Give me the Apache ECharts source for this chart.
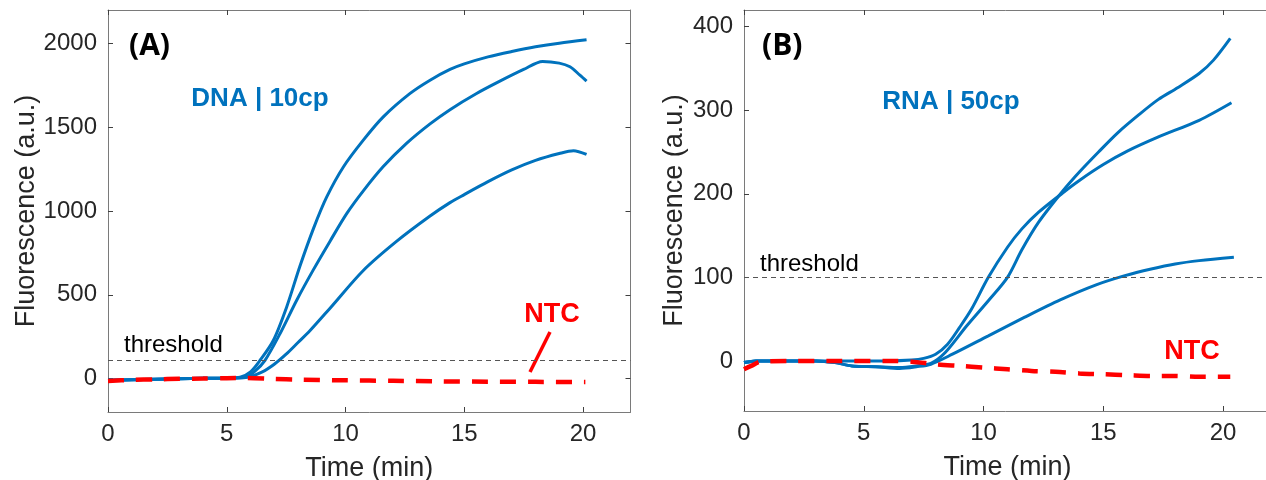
<!DOCTYPE html>
<html>
<head>
<meta charset="utf-8">
<script src="https://cdn.jsdelivr.net/npm/echarts@6/dist/echarts.min.js"></script>
<style>
html, body { margin: 0; padding: 0; background: #fff; }
#chart { width: 1266px; height: 480px; }
</style>
</head>
<body>
<div id="chart"></div>
<script>
// ---- data: DNA panel (A) ----
const dnaTicksX = [0, 5, 10, 15, 20];
const dnaTicksY = [0, 500, 1000, 1500, 2000];
const dnaThreshold = 110;

const dnaT1 = [0, 1, 2, 3, 4, 5, 5.56, 6.0, 6.4, 6.96, 7.52, 8.08, 8.65, 9.21, 9.91, 10.75, 11.59, 12.72, 13.56, 14.4, 15, 16, 17, 18, 19, 20.15];
const dnaF1 = [-10, -7, -4, -1, 1, 3, 8, 40, 108, 227, 426, 670, 895, 1084, 1263, 1423, 1562, 1702, 1781, 1845, 1878, 1920, 1952, 1980, 2002, 2022];

const dnaT2 = [0, 1, 2, 3, 4, 5, 5.8, 6.2, 6.61, 7.24, 7.94, 8.65, 9.35, 10.05, 10.75, 11.59, 12.58, 13.56, 14.4, 15.5, 16.5, 17.5, 18.3, 19.0, 19.45, 19.87, 20.15];
const dnaF2 = [-10, -7, -4, -1, 1, 3, 8, 45, 108, 267, 466, 650, 820, 984, 1120, 1265, 1405, 1520, 1605, 1700, 1775, 1845, 1893, 1883, 1861, 1811, 1775];

const dnaT3 = [0, 1, 2, 3, 4, 5, 5.8, 6.5, 7.0, 7.5, 8.0, 8.5, 9.35, 10.75, 12.16, 13.56, 14.4, 15, 16, 17, 18, 19, 19.6, 20.15];
const dnaF3 = [-10, -7, -4, -1, 1, 3, 6, 40, 85, 145, 215, 285, 420, 645, 820, 970, 1050, 1098, 1175, 1245, 1302, 1343, 1360, 1338];

const dnaNtcT = [0, 1, 2, 3, 4, 5, 5.8, 7, 8, 10, 12, 14, 16, 18, 20.1];
const dnaNtcF = [-15, -8, -5, -2, 0, 2, 3, -3, -7, -11, -14, -17, -19, -20, -21];

// ---- data: RNA panel (B) ----
const rnaTicksX = [0, 5, 10, 15, 20];
const rnaTicksY = [0, 100, 200, 300, 400];
const rnaThreshold = 100;

const rnaT1 = [0, 0.5, 2, 4, 6, 7, 7.5, 8.0, 8.5, 9, 9.5, 10.2, 11, 11.6, 12.3, 13.3, 14, 15, 16, 17.3, 19, 20.35];
const rnaF1 = [-2, 0, 0, 0, 0, 1, 3, 8, 20, 40, 62, 100, 136, 158, 178, 201, 216, 235, 251, 268, 288, 309];

const rnaT2 = [0, 0.5, 3, 3.8, 4.5, 5.5, 6.5, 7.2, 7.8, 8.4, 9.3, 10.2, 11.0, 11.6, 12.3, 13.3, 14, 14.8, 15.6, 16.5, 17.3, 18.1, 19, 19.6, 20.3];
const rnaF2 = [-2, 0, 0, -2, -6, -7, -8, -6, -3, 10, 42, 72, 100, 133, 166, 203, 226, 250, 273, 295, 313, 327, 344, 360, 386];

const rnaT3 = [0, 0.5, 3, 3.8, 4.5, 5.5, 6.5, 7.2, 7.8, 8.7, 10.2, 11.7, 13.2, 14.7, 15.9, 17, 18, 19, 20.45];
const rnaF3 = [-2, 0, 0, -2, -6, -7, -9, -7, -4, 8, 30, 52, 73, 91, 102, 110, 116, 120, 124];

const rnaNtcT = [0, 0.3, 0.7, 2, 4, 6, 7, 8, 9, 10, 11, 12, 13, 14, 15, 16, 17, 18, 19, 20.3];
const rnaNtcF = [-10, -6, -1, 0, 0, 0, -1, -4, -6, -8, -10, -12, -13, -15, -16, -17, -18, -18, -19, -19];

// ---- styles ----
const BLUE = '#0072BD';
const RED = '#FF0000';
const FONT = 'Liberation Sans, Arial, sans-serif';
const TEXT = '#262626';
const BOX = '#7a7a7a';

function zip(t, v) {
  return t.map((x, i) => [x, v[i]]);
}

function xAxes(grid, ticks) {
  return [
    {
      gridIndex: grid, type: 'value', min: 0, max: 22, position: 'bottom',
      name: 'Time (min)', nameLocation: 'middle', nameGap: 43,
      nameTextStyle: { fontFamily: FONT, fontSize: 27, color: TEXT },
      axisLine: { onZero: false, lineStyle: { color: BOX, width: 1 } },
      axisTick: { inside: true, length: 5, customValues: ticks, lineStyle: { color: '#404040' } },
      axisLabel: { customValues: ticks, margin: 10, fontFamily: FONT, fontSize: 24, color: TEXT },
      splitLine: { show: false }
    },
    {
      gridIndex: grid, type: 'value', min: 0, max: 22, position: 'top',
      axisLine: { onZero: false, lineStyle: { color: BOX, width: 1 } },
      axisTick: { inside: true, length: 5, customValues: ticks, lineStyle: { color: '#404040' } },
      axisLabel: { show: false },
      splitLine: { show: false }
    }
  ];
}

function yAxes(grid, min, max, ticks, gap) {
  return [
    {
      gridIndex: grid, type: 'value', min: min, max: max, position: 'left',
      name: 'Fluorescence (a.u.)', nameLocation: 'middle', nameGap: gap, nameRotate: 90,
      nameTextStyle: { fontFamily: FONT, fontSize: 27, color: TEXT },
      axisLine: { show: true, onZero: false, lineStyle: { color: BOX, width: 1 } },
      axisTick: { show: true, inside: true, length: 5, customValues: ticks, lineStyle: { color: '#404040' } },
      axisLabel: {
        customValues: ticks, margin: 11, fontFamily: FONT, fontSize: 24, color: TEXT,
        formatter: (v) => String(v)
      },
      splitLine: { show: false }
    },
    {
      gridIndex: grid, type: 'value', min: min, max: max, position: 'right',
      axisLine: { show: true, onZero: false, lineStyle: { color: BOX, width: 1 } },
      axisTick: { show: true, inside: true, length: 5, customValues: ticks, lineStyle: { color: '#404040' } },
      axisLabel: { show: false },
      splitLine: { show: false }
    }
  ];
}

function blue(data, xi, yi) {
  return {
    type: 'line', xAxisIndex: xi, yAxisIndex: yi, data: data, showSymbol: false,
    smooth: 0.3,
    lineStyle: { color: BLUE, width: 3 }, silent: true, z: 3
  };
}

function ntc(data, xi, yi, thr) {
  return {
    type: 'line', xAxisIndex: xi, yAxisIndex: yi, data: data, showSymbol: false,
    smooth: 0.3,
    lineStyle: { color: RED, width: 4.5, type: [16, 12] }, silent: true, z: 4,
    markLine: {
      symbol: 'none', silent: true, label: { show: false },
      lineStyle: { color: '#555', width: 1.2, type: [5, 4] },
      data: [{ yAxis: thr }]
    }
  };
}

function label(text, x, y, size, color, align, weight, family) {
  return {
    type: 'text', x: x, y: y, silent: true,
    style: {
      text: text, fill: color, fontSize: size, fontWeight: weight || 'normal',
      fontFamily: family || FONT, align: align || 'center', verticalAlign: 'middle'
    }
  };
}

const chart = echarts.init(document.getElementById('chart'));
chart.setOption({
  animation: false,
  backgroundColor: '#fff',
  grid: [
    { left: 108, top: 10, right: 635.5, bottom: 68, outerBoundsMode: 'none' },
    { left: 744, top: 10, right: -5, bottom: 69, outerBoundsMode: 'none' }
  ],
  xAxis: xAxes(0, dnaTicksX).concat(xAxes(1, rnaTicksX)),
  yAxis: yAxes(0, -200, 2200, dnaTicksY, 67).concat(yAxes(1, -60, 420, rnaTicksY, 56)),
  series: [
    blue(zip(dnaT1, dnaF1), 0, 0),
    blue(zip(dnaT2, dnaF2), 0, 0),
    blue(zip(dnaT3, dnaF3), 0, 0),
    ntc(zip(dnaNtcT, dnaNtcF), 0, 0, dnaThreshold),
    blue(zip(rnaT1, rnaF1), 2, 2),
    blue(zip(rnaT2, rnaF2), 2, 2),
    blue(zip(rnaT3, rnaF3), 2, 2),
    ntc(zip(rnaNtcT, rnaNtcF), 2, 2, rnaThreshold)
  ],
  graphic: [
    label('(A)', 129, 46, 30, '#000', 'left', 'bold', 'Open Sans, Noto Sans, sans-serif'),
    label('(B)', 762, 46, 30, '#000', 'left', 'bold', 'Open Sans, Noto Sans, sans-serif'),
    label('DNA | 10cp', 260, 99, 26, BLUE, 'center', 'bold'),
    label('RNA | 50cp', 951, 102, 26, BLUE, 'center', 'bold'),
    label('threshold', 124, 345, 24, '#000', 'left'),
    label('threshold', 760, 264, 24, '#000', 'left'),
    label('NTC', 552, 315, 27, RED, 'center', 'bold'),
    label('NTC', 1192, 352, 27, RED, 'center', 'bold'),
    {
      type: 'line', silent: true,
      shape: { x1: 550, y1: 332, x2: 530, y2: 372 },
      style: { stroke: RED, lineWidth: 3.5 }
    }
  ]
});
</script>
</body>
</html>
